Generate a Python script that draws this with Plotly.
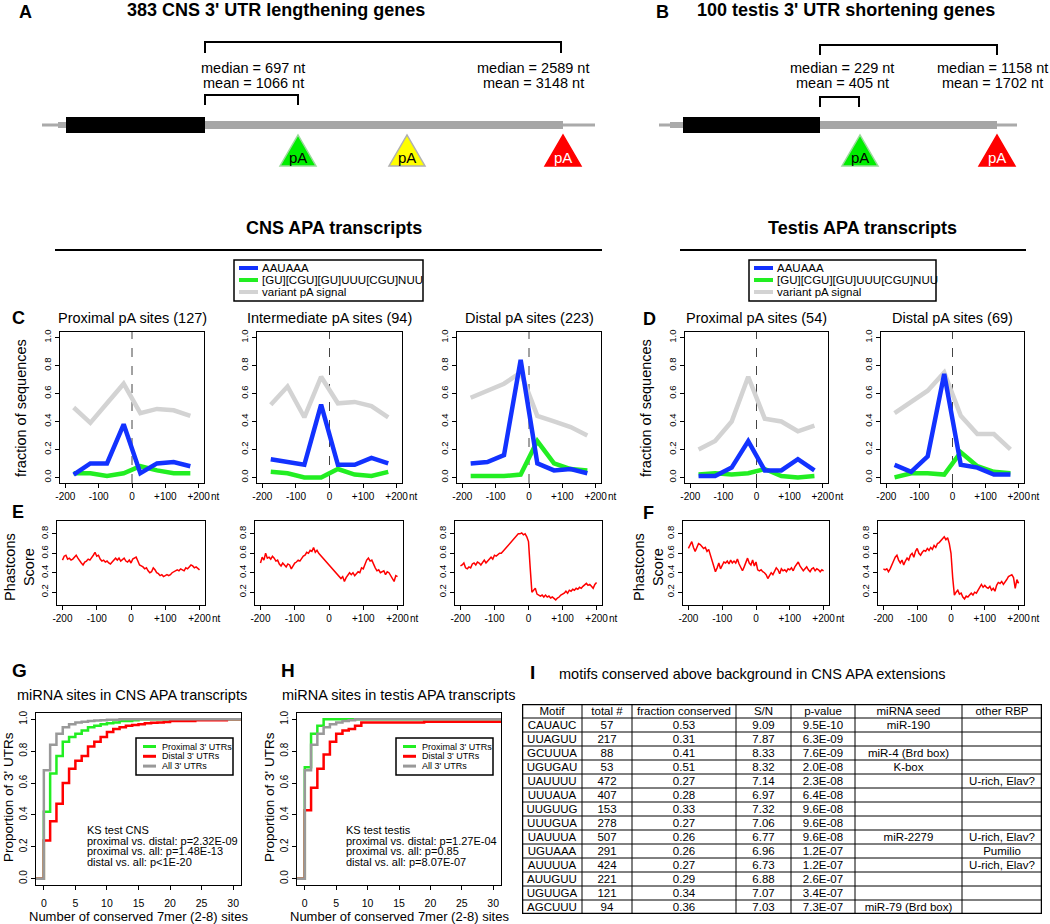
import plotly.graph_objects as go

W, H = 1050, 924
def px(x): return x / W
def py(y): return 1 - y / H

FONT = "Liberation Sans, Arial, Helvetica, sans-serif"
BLUE = '#1232FF'
GREEN = '#22EE22'
LGRAY = '#D3D3D3'
RED = '#FF0000'
MGRAY = '#999999'

# ---------------- data ----------------
A_COUNTS = [383, 100]
A_PROX_STATS = [697, 1066]     # median, mean (CNS proximal UTR)
A_DIST_STATS = [2589, 3148]    # median, mean (CNS distal UTR)
B_PROX_STATS = [229, 405]
B_DIST_STATS = [1158, 1702]

POS8 = [-175, -125, -75, -25, 25, 75, 125, 175]
CNS_PROX_AAUAAA = [0.02, 0.10, 0.10, 0.38, 0.03, 0.10, 0.11, 0.08]
CNS_PROX_GU     = [0.03, 0.03, 0.01, 0.03, 0.08, 0.05, 0.03, 0.03]
CNS_PROX_VAR    = [0.50, 0.39, 0.53, 0.67, 0.46, 0.49, 0.48, 0.44]
CNS_INT_AAUAAA  = [0.13, 0.11, 0.09, 0.52, 0.09, 0.09, 0.14, 0.10]
CNS_INT_GU      = [0.04, 0.03, 0.00, 0.00, 0.06, 0.02, 0.01, 0.04]
CNS_INT_VAR     = [0.52, 0.65, 0.43, 0.72, 0.53, 0.54, 0.51, 0.43]
CNS_DIST_AAUAAA = [0.10, 0.11, 0.16, 0.84, 0.10, 0.05, 0.06, 0.03]
CNS_DIST_GU     = [0.01, 0.01, 0.01, 0.02, 0.26, 0.10, 0.06, 0.05]
CNS_DIST_VAR    = [0.57, 0.62, 0.67, 0.75, 0.44, 0.40, 0.36, 0.30]
TES_PROX_AAUAAA = [0.01, 0.01, 0.07, 0.26, 0.05, 0.05, 0.13, 0.05]
TES_PROX_GU     = [0.02, 0.03, 0.02, 0.03, 0.06, 0.01, 0.00, 0.01]
TES_PROX_VAR    = [0.20, 0.26, 0.40, 0.72, 0.42, 0.40, 0.33, 0.37]
TES_DIST_AAUAAA = [0.09, 0.04, 0.15, 0.74, 0.09, 0.07, 0.02, 0.02]
TES_DIST_GU     = [0.00, 0.03, 0.03, 0.02, 0.18, 0.08, 0.04, 0.03]
TES_DIST_VAR    = [0.46, 0.54, 0.62, 0.75, 0.44, 0.31, 0.31, 0.20]

PHAST_POS = list(range(-200, 201, 5))
PHAST_CNS_PROX = [0.53, 0.57, 0.58, 0.54, 0.55, 0.53, 0.54, 0.56, 0.58, 0.55, 0.52, 0.50, 0.48, 0.51,
                  0.52, 0.54, 0.53, 0.55, 0.58, 0.61, 0.57, 0.58, 0.54, 0.52, 0.53, 0.51, 0.52, 0.50,
                  0.49, 0.51, 0.53, 0.55, 0.53, 0.55, 0.52, 0.54, 0.55, 0.52, 0.51, 0.53, 0.50, 0.54,
                  0.55, 0.56, 0.52, 0.48, 0.47, 0.46, 0.44, 0.45, 0.42, 0.40, 0.41, 0.45, 0.43, 0.40,
                  0.39, 0.37, 0.38, 0.36, 0.37, 0.38, 0.37, 0.38, 0.40, 0.41, 0.42, 0.43, 0.42, 0.44,
                  0.43, 0.42, 0.45, 0.44, 0.46, 0.48, 0.47, 0.45, 0.46, 0.44, 0.43]
PHAST_CNS_INT = [0.50, 0.56, 0.53, 0.60, 0.55, 0.56, 0.54, 0.57, 0.55, 0.52, 0.53, 0.49, 0.47, 0.50,
                 0.48, 0.46, 0.49, 0.48, 0.44, 0.47, 0.50, 0.51, 0.53, 0.52, 0.55, 0.57, 0.58, 0.61,
                 0.60, 0.63, 0.62, 0.66, 0.61, 0.63, 0.60, 0.58, 0.56, 0.55, 0.52, 0.50, 0.48, 0.46,
                 0.44, 0.42, 0.40, 0.38, 0.37, 0.34, 0.36, 0.31, 0.35, 0.38, 0.40, 0.38, 0.40, 0.37,
                 0.39, 0.41, 0.40, 0.45, 0.44, 0.48, 0.53, 0.55, 0.52, 0.53, 0.48, 0.45, 0.42, 0.43,
                 0.40, 0.41, 0.42, 0.38, 0.41, 0.40, 0.37, 0.34, 0.31, 0.37, 0.36]
PHAST_CNS_DIST = [0.47, 0.48, 0.50, 0.45, 0.44, 0.46, 0.45, 0.49, 0.50, 0.48, 0.51, 0.50, 0.48, 0.51,
                  0.53, 0.50, 0.52, 0.55, 0.56, 0.54, 0.58, 0.57, 0.59, 0.60, 0.60, 0.62, 0.63, 0.66,
                  0.68, 0.70, 0.71, 0.73, 0.75, 0.77, 0.80, 0.80, 0.81, 0.79, 0.80, 0.77, 0.72, 0.45,
                  0.20, 0.22, 0.24, 0.18, 0.17, 0.16, 0.17, 0.15, 0.17, 0.15, 0.16, 0.14, 0.15, 0.13,
                  0.12, 0.14, 0.15, 0.17, 0.18, 0.19, 0.21, 0.19, 0.22, 0.21, 0.23, 0.22, 0.24, 0.23,
                  0.25, 0.24, 0.26, 0.28, 0.29, 0.27, 0.28, 0.26, 0.24, 0.28, 0.30]
PHAST_TES_PROX = [0.65, 0.68, 0.72, 0.66, 0.62, 0.66, 0.70, 0.69, 0.67, 0.65, 0.66, 0.62, 0.64, 0.58,
                  0.52, 0.47, 0.41, 0.45, 0.50, 0.44, 0.47, 0.51, 0.50, 0.52, 0.49, 0.53, 0.50, 0.52,
                  0.50, 0.54, 0.49, 0.45, 0.42, 0.46, 0.50, 0.55, 0.50, 0.48, 0.53, 0.47, 0.51, 0.43,
                  0.42, 0.43, 0.41, 0.40, 0.38, 0.34, 0.37, 0.40, 0.38, 0.42, 0.45, 0.43, 0.39, 0.44,
                  0.42, 0.43, 0.41, 0.44, 0.43, 0.45, 0.42, 0.46, 0.49, 0.51, 0.47, 0.45, 0.42, 0.44,
                  0.46, 0.43, 0.41, 0.44, 0.45, 0.42, 0.44, 0.43, 0.41, 0.43, 0.42]
PHAST_TES_DIST = [0.44, 0.43, 0.44, 0.41, 0.44, 0.49, 0.52, 0.56, 0.58, 0.53, 0.50, 0.53, 0.48, 0.52,
                  0.55, 0.53, 0.58, 0.60, 0.56, 0.62, 0.65, 0.60, 0.58, 0.61, 0.63, 0.62, 0.65, 0.63,
                  0.66, 0.64, 0.68, 0.66, 0.70, 0.71, 0.73, 0.75, 0.77, 0.74, 0.76, 0.70, 0.60, 0.35,
                  0.17, 0.20, 0.22, 0.18, 0.19, 0.15, 0.13, 0.16, 0.15, 0.17, 0.19, 0.17, 0.20, 0.19,
                  0.22, 0.26, 0.28, 0.25, 0.27, 0.25, 0.24, 0.26, 0.22, 0.24, 0.21, 0.27, 0.30, 0.29,
                  0.31, 0.28, 0.30, 0.33, 0.36, 0.37, 0.38, 0.35, 0.24, 0.33, 0.29]

K_SITES = list(range(32))
G_PROX = [0.42, 0.66, 0.77, 0.86, 0.89, 0.91, 0.93, 0.95, 0.96, 0.97, 0.975, 0.98, 0.99, 0.99, 0.995, 1.0,
          1.0, 1.0, 1.0, 1.0, 1.0, 1.0, 1.0, 1.0, 1.0, 1.0, 1.0, 1.0, 1.0, 1.0, 1.0, 1.0]
G_DIST = [0.24, 0.36, 0.47, 0.60, 0.69, 0.74, 0.77, 0.83, 0.86, 0.89, 0.92, 0.94, 0.95, 0.96, 0.965, 0.97,
          0.975, 0.978, 0.98, 0.983, 0.99, 0.99, 0.99, 0.99, 0.995, 0.995, 0.995, 0.995, 0.995, 1.0, 1.0, 1.0]
G_ALL = [0.68, 0.84, 0.91, 0.95, 0.97, 0.98, 0.985, 0.99, 0.993, 0.995, 0.997, 0.998, 1.0, 1.0, 1.0, 1.0,
         1.0, 1.0, 1.0, 1.0, 1.0, 1.0, 1.0, 1.0, 1.0, 1.0, 1.0, 1.0, 1.0, 1.0, 1.0, 1.0]
H_PROX = [0.70, 0.91, 0.96, 1.0, 1.0, 1.0, 1.0, 1.0, 1.0, 1.0, 1.0, 1.0, 1.0, 1.0, 1.0, 1.0,
          1.0, 1.0, 1.0, 1.0, 1.0, 1.0, 1.0, 1.0, 1.0, 1.0, 1.0, 1.0, 1.0, 1.0, 1.0, 1.0]
H_DIST = [0.43, 0.57, 0.69, 0.78, 0.86, 0.91, 0.93, 0.94, 0.96, 0.98, 0.98, 0.98, 0.98, 0.98, 0.98, 0.98,
          0.98, 0.98, 0.98, 0.985, 0.985, 0.985, 0.985, 0.985, 0.985, 0.985, 0.985, 0.985, 0.985, 0.985, 0.985, 0.985]
H_ALL = [0.68, 0.84, 0.91, 0.95, 0.97, 0.98, 0.99, 0.995, 1.0, 1.0, 1.0, 1.0, 1.0, 1.0, 1.0, 1.0,
         1.0, 1.0, 1.0, 1.0, 1.0, 1.0, 1.0, 1.0, 1.0, 1.0, 1.0, 1.0, 1.0, 1.0, 1.0, 1.0]
KS_CNS = ["KS test CNS", "proximal vs. distal: p=2.32E-09", "proximal vs. all: p=1.48E-13", "distal vs. all: p&lt;1E-20"]
KS_TES = ["KS test testis", "proximal vs. distal: p=1.27E-04", "proximal vs. all: p=0.85", "distal vs. all: p=8.07E-07"]

HEADERS = ["Motif", "total #", "fraction conserved", "S/N", "p-value", "miRNA seed", "other RBP"]
MOTIFS = ["CAUAUC", "UUAGUU", "GCUUUA", "UGUGAU", "UAUUUU", "UUUAUA", "UUGUUG", "UUUGUA", "UAUUUA",
          "UGUAAA", "AUUUUA", "AUUGUU", "UGUUGA", "AGCUUU"]
TOTALS = [57, 217, 88, 53, 472, 407, 153, 278, 507, 291, 424, 221, 121, 94]
FRAC = [0.53, 0.31, 0.41, 0.51, 0.27, 0.28, 0.33, 0.27, 0.26, 0.26, 0.27, 0.29, 0.34, 0.36]
SN = [9.09, 7.87, 8.33, 8.32, 7.14, 6.97, 7.32, 7.06, 6.77, 6.96, 6.73, 6.88, 7.07, 7.03]
PVAL = ["9.5E-10", "6.3E-09", "7.6E-09", "2.0E-08", "2.3E-08", "6.4E-08", "9.6E-08", "9.6E-08", "9.6E-08",
        "1.2E-07", "1.2E-07", "2.6E-07", "3.4E-07", "7.3E-07"]
SEED = ["miR-190", "", "miR-4 (Brd box)", "K-box", "", "", "", "", "miR-2279", "", "", "", "", "miR-79 (Brd box)"]
RBP = ["", "", "", "", "U-rich, Elav?", "", "", "", "U-rich, Elav?", "Pumilio", "U-rich, Elav?", "", "", ""]

# ---------------- helpers ----------------
fig = go.Figure()
layout = {}
shapes = []
annotations = []

def ann(x, y, text, size=11, bold=False, xanchor='center', yanchor='middle', color='black', angle=0):
    annotations.append(dict(x=px(x), y=py(y), xref='paper', yref='paper',
                            text=('<b>%s</b>' % text) if bold else text, showarrow=False,
                            font=dict(size=size, color=color, family=FONT),
                            xanchor=xanchor, yanchor=yanchor, textangle=angle))

def rect(x0, y0, x1, y1, fill, lw=0, lc=None):
    shapes.append(dict(type='rect', xref='paper', yref='paper', x0=px(x0), x1=px(x1), y0=py(y1), y1=py(y0),
                       fillcolor=fill, line=dict(width=lw, color=lc or 'rgba(0,0,0,0)'), layer='above'))

def seg(x0, y0, x1, y1, color='black', width=1):
    shapes.append(dict(type='line', xref='paper', yref='paper', x0=px(x0), x1=px(x1), y0=py(y0), y1=py(y1),
                       line=dict(color=color, width=width), layer='above'))

def path(points, color, width, fill=None, closed=False):
    d = 'M ' + ' L '.join('%.5f,%.5f' % (px(x), py(y)) for x, y in points)
    if closed:
        d += ' Z'
    shapes.append(dict(type='path', xref='paper', yref='paper', path=d,
                       line=dict(color=color, width=width), fillcolor=fill or 'rgba(0,0,0,0)', layer='above'))

def make_axes(n, xd, yd, xr, yr, xt, xtt, yt, ytt, xfont=10, yfont=9.5, xstand=None):
    sx = '' if n == 1 else str(n)
    common = dict(showline=True, mirror=True, linecolor='black', linewidth=1, ticks='outside', ticklen=4,
                  tickwidth=1, tickcolor='black', showgrid=False, zeroline=False, fixedrange=True,
                  automargin=False)
    xa = dict(domain=[px(xd[0]), px(xd[1])], range=xr, anchor='y' + sx, tickvals=xt, ticktext=xtt,
              tickfont=dict(size=xfont, color='black', family=FONT), **common)
    if xstand is not None:
        xa['ticklabelstandoff'] = xstand
    ya = dict(domain=[py(yd[1]), py(yd[0])], range=yr, anchor='x' + sx, tickvals=yt, ticktext=ytt,
              tickangle=-90, tickfont=dict(size=yfont, color='black', family=FONT), **common)
    layout['xaxis' + sx] = xa
    layout['yaxis' + sx] = ya
    return 'x' + sx, 'y' + sx

# ---------------- Panels A & B: gene schematics ----------------
SCHEMA = [
    dict(label='A', lx=25, title="%d CNS 3' UTR lengthening genes" % A_COUNTS[0], tx=276,
         line=(42, 595), stub=(58, 66), cds=(66, 205), utr=(205, 563),
         top=(205, 561, 42, 53), low=(205, 298, 95, 105),
         pa=[(298, '#00EE00', '#9ADA9A', 'black'), (407, '#FFFF00', '#B0B0B0', 'black'), (563, '#FF0000', '#FF0000', 'white')],
         left=(253, A_PROX_STATS), right=(533, A_DIST_STATS)),
    dict(label='B', lx=662, title="%d testis 3' UTR shortening genes" % A_COUNTS[1], tx=846,
         line=(659, 1017), stub=(670, 683), cds=(683, 820), utr=(820, 997),
         top=(820, 997, 45, 55), low=(820, 859, 97, 107),
         pa=[(860, '#00EE00', '#9ADA9A', 'black'), (997, '#FF0000', '#FF0000', 'white')],
         left=(842, B_PROX_STATS), right=(992, B_DIST_STATS)),
]
for s in SCHEMA:
    ann(s['lx'], 12, s['label'], size=18, bold=True)
    ann(s['tx'], 10, s['title'], size=18, bold=True)
    seg(s['line'][0], 125, s['line'][1], 125, '#AAAAAA', 3)
    rect(s['stub'][0], 122, s['stub'][1], 128, '#AAAAAA')
    rect(s['utr'][0], 121, s['utr'][1], 129, '#A6A6A6')
    rect(s['cds'][0], 117, s['cds'][1], 133, 'black')
    x0, x1, yh, yb = s['top']
    path([(x0, yb), (x0, yh), (x1, yh), (x1, yb)], 'black', 2)
    x0, x1, yh, yb = s['low']
    path([(x0, yb), (x0, yh), (x1, yh), (x1, yb)], 'black', 2)
    for cx, fill, edge, tcol in s['pa']:
        path([(cx - 18, 166), (cx + 18, 166), (cx, 135)], edge, 1.5, fill=fill, closed=True)
        ann(cx, 157, 'pA', size=15, color=tcol)
    for xc, stats in (s['left'], s['right']):
        ann(xc, 68, 'median = %d nt' % stats[0], size=14.5)
        ann(xc, 83, 'mean = %d nt' % stats[1], size=14.5)

# ---------------- Section headers & legends ----------------
ann(334, 228, 'CNS APA transcripts', size=18, bold=True)
seg(55, 250, 602, 250, 'black', 2)
ann(862, 228, 'Testis APA transcripts', size=18, bold=True)
seg(680, 250, 1026, 250, 'black', 2)

LEG_LABELS = ['AAUAAA', '[GU][CGU][GU]UUU[CGU]NUU', 'variant pA signal']
LEG_COLORS = [BLUE, GREEN, LGRAY]
for bx0, bx1 in ((234, 423), (749, 936)):
    rect(bx0, 260, bx1, 301, 'rgba(0,0,0,0)', lw=1.5, lc='black')
    for i, (lab, col) in enumerate(zip(LEG_LABELS, LEG_COLORS)):
        yy = 268 + 12 * i
        seg(bx0 + 5, yy, bx0 + 24, yy, col, 4)
        ann(bx0 + 26, yy, lab, size=11.5, xanchor='left')

# ---------------- Panels C & D ----------------
XT = [-200, -100, 0, 100, 200]
XTT = ['-200', '-100', '0', '+100', '+200']
YT = [0, 0.2, 0.4, 0.6, 0.8, 1.0]
YTT = ['0.0', '0.2', '0.4', '0.6', '0.8', '1.0']
CD = [
    ((60, 204), "Proximal pA sites (127)", CNS_PROX_VAR, CNS_PROX_GU, CNS_PROX_AAUAAA),
    ((257, 402), "Intermediate pA sites (94)", CNS_INT_VAR, CNS_INT_GU, CNS_INT_AAUAAA),
    ((457, 601), "Distal pA sites (223)", CNS_DIST_VAR, CNS_DIST_GU, CNS_DIST_AAUAAA),
    ((685, 828), "Proximal pA sites (54)", TES_PROX_VAR, TES_PROX_GU, TES_PROX_AAUAAA),
    ((881, 1024), "Distal pA sites (69)", TES_DIST_VAR, TES_DIST_GU, TES_DIST_AAUAAA),
]
n = 0
for xd, title, var, gu, aa in CD:
    n += 1
    xa, ya = make_axes(n, xd, (332, 483), [-216, 216], [-0.04, 1.04], XT, XTT, YT, YTT)
    shapes.append(dict(type='line', xref=xa, yref=ya + ' domain', x0=0, x1=0, y0=0, y1=1,
                       line=dict(color='#444444', width=1, dash='dash'), layer='below'))
    for vals, col in ((var, LGRAY), (gu, GREEN), (aa, BLUE)):
        fig.add_trace(go.Scatter(x=POS8, y=vals, xaxis=xa, yaxis=ya, mode='lines',
                                 line=dict(color=col, width=4.5), showlegend=False, hoverinfo='skip'))
    ann((xd[0] + xd[1]) / 2, 318, title, size=14.5)
    annotations.append(dict(x=200, xref=xa, y=py(496), yref='paper', text='nt', showarrow=False,
                            xanchor='left', xshift=10, yanchor='middle',
                            font=dict(size=10, color='black', family=FONT)))
ann(18, 318, 'C', size=18, bold=True)
ann(649, 319, 'D', size=18, bold=True)
ann(21, 408, 'fraction of sequences', size=14.5, angle=-90)
ann(646, 408, 'fraction of sequences', size=14.5, angle=-90)

# ---------------- Panels E & F ----------------
EF = [((57, 205), PHAST_CNS_PROX), ((255, 403), PHAST_CNS_INT), ((455, 602), PHAST_CNS_DIST),
      ((683, 829), PHAST_TES_PROX), ((878, 1024), PHAST_TES_DIST)]
for xd, vals in EF:
    n += 1
    xa, ya = make_axes(n, xd, (521, 605), [-216, 216], [0.068, 0.932], XT, XTT,
                       [0.2, 0.4, 0.6, 0.8], ['0.2', '0.4', '0.6', '0.8'])
    fig.add_trace(go.Scatter(x=PHAST_POS, y=vals, xaxis=xa, yaxis=ya, mode='lines',
                             line=dict(color=RED, width=1.5), showlegend=False, hoverinfo='skip'))
    annotations.append(dict(x=200, xref=xa, y=py(618), yref='paper', text='nt', showarrow=False,
                            xanchor='left', xshift=10, yanchor='middle',
                            font=dict(size=10, color='black', family=FONT)))
ann(18, 512, 'E', size=18, bold=True)
ann(648, 513, 'F', size=18, bold=True)
ann(19, 567, 'Phastcons<br>Score', size=14.5, angle=-90)
ann(648, 567, 'Phastcons<br>Score', size=14.5, angle=-90)

# ---------------- Panels G & H ----------------
GH = [((36, 241), 'G', 19, 'miRNA sites in CNS APA transcripts', 132, (G_PROX, G_DIST, G_ALL), KS_CNS, 85, (136, 233)),
      ((297, 501), 'H', 288, 'miRNA sites in testis APA transcripts', 398, (H_PROX, H_DIST, H_ALL), KS_TES, 344, (396, 493))]
GH_LABELS = ["Proximal 3' UTRs", "Distal 3' UTRs", "All 3' UTRs"]
GH_COLORS = [GREEN, RED, MGRAY]
for xd, lab, lx, title, tx, series, ks, ksx, lb in GH:
    n += 1
    xa, ya = make_axes(n, xd, (713, 885), [-1.24, 31.24], [-0.04, 1.04],
                       [0, 5, 10, 15, 20, 25, 30], ['0', '5', '10', '15', '20', '25', '30'],
                       YT, YTT, xfont=10.5, yfont=10, xstand=4)
    for vals, col in zip(series, GH_COLORS):
        xs = [K_SITES[0] - 3] + K_SITES + [K_SITES[-1] + 3]
        ys = [0] + vals + [vals[-1]]
        fig.add_trace(go.Scatter(x=xs, y=ys, xaxis=xa, yaxis=ya, mode='lines', line_shape='hv',
                                 line=dict(color=col, width=2.5), showlegend=False, hoverinfo='skip'))
    ann(lx, 670, lab, size=19, bold=True)
    ann(tx, 695, title, size=14.5)
    ann((xd[0] + xd[1]) / 2, 916, 'Number of conserved 7mer (2-8) sites', size=13)
    ann(xd[0] - 28, 797, "Proportion of 3' UTRs", size=13.5, angle=-90)
    rect(lb[0], 738, lb[1], 775, 'white', lw=1.5, lc='black')
    for i, (gl, gc) in enumerate(zip(GH_LABELS, GH_COLORS)):
        yy = 746.5 + 9.8 * i
        seg(lb[0] + 7, yy, lb[0] + 20, yy, gc, 3)
        ann(lb[0] + 24, yy, gl, size=9, xanchor='left')
    for i, t in enumerate(ks):
        ann(ksx, 830 + 10.7 * i, t, size=11, xanchor='left')

# ---------------- Panel I: table ----------------
ann(532, 672, 'I', size=19, bold=True)
ann(557, 674, 'motifs conserved above background in CNS APA extensions', size=14.5, xanchor='left')
COL_EDGES = [0, 60, 110, 214, 269, 333, 440, 520]
NROWS = len(MOTIFS) + 1
layout['xaxis13'] = dict(domain=[px(522), px(1042)], range=[0, 520], visible=False, fixedrange=True, anchor='y13')
layout['yaxis13'] = dict(domain=[py(914), py(704)], range=[NROWS, 0], visible=False, fixedrange=True, anchor='x13')
COLUMNS = [MOTIFS, [str(v) for v in TOTALS], ['%.2f' % v for v in FRAC], ['%.2f' % v for v in SN], PVAL, SEED, RBP]
for ci, colvals in enumerate(COLUMNS):
    cx = (COL_EDGES[ci] + COL_EDGES[ci + 1]) / 2
    fig.add_trace(go.Scatter(x=[cx] * NROWS, y=[r + 0.55 for r in range(NROWS)], mode='text',
                             text=[HEADERS[ci]] + colvals, textposition='middle center',
                             textfont=dict(size=11.5, color='black', family=FONT),
                             xaxis='x13', yaxis='y13', showlegend=False, hoverinfo='skip', cliponaxis=False))
for r in range(1, NROWS):
    shapes.append(dict(type='line', xref='x13', yref='y13', x0=0, x1=520, y0=r, y1=r,
                       line=dict(color='black', width=1)))
for e in COL_EDGES[1:-1]:
    shapes.append(dict(type='line', xref='x13', yref='y13', x0=e, x1=e, y0=0, y1=NROWS,
                       line=dict(color='black', width=1)))
shapes.append(dict(type='rect', xref='x13', yref='y13', x0=0, x1=520, y0=0, y1=NROWS,
                   line=dict(color='black', width=2.5), fillcolor='rgba(0,0,0,0)'))

fig.update_layout(**layout)
fig.update_layout(width=W, height=H, margin=dict(l=0, r=0, t=0, b=0), paper_bgcolor='white',
                  plot_bgcolor='rgba(0,0,0,0)', showlegend=False, shapes=shapes, annotations=annotations,
                  font=dict(family=FONT, color='black'))
fig.write_html("out.html", config={'displayModeBar': False, 'staticPlot': True},
               post_script="document.body.style.margin='0px';document.body.style.padding='0px';"
                           "document.body.style.overflow='hidden';")
